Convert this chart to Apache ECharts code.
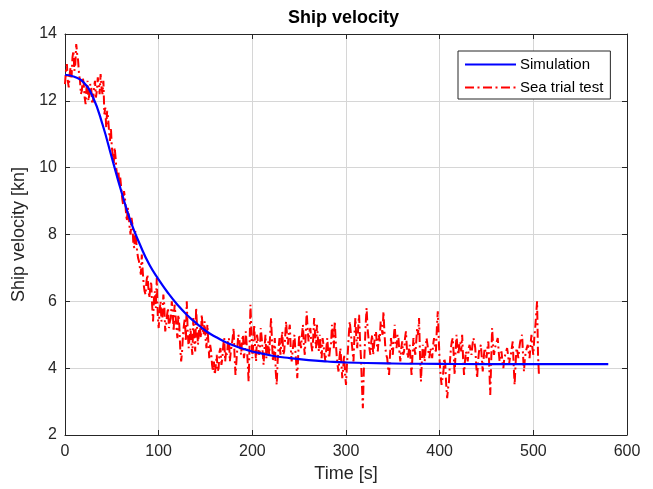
<!DOCTYPE html>
<html>
<head>
<meta charset="utf-8">
<title>Ship velocity</title>
<script src="https://cdn.jsdelivr.net/npm/echarts/dist/echarts.min.js"></script>
<style>
  html, body { margin: 0; padding: 0; background: #fff; }
  #chart { width: 653px; height: 489px; }
</style>
</head>
<body>
<div id="chart"></div>
<script>
// x / y axis ticks
var timeTicks = [0, 100, 200, 300, 400, 500, 600];
var velocityTicks = [2, 4, 6, 8, 10, 12, 14];

// simulation curve [s], [kn]
var simTime = [0, 10, 20, 30, 40, 50, 60, 70, 80, 90, 100, 110, 120, 130, 140, 150, 160, 170, 180, 190,
  200, 220, 240, 260, 280, 300, 350, 400, 450, 500, 580];
var simVelocity = [12.78, 12.72, 12.55, 12.1, 11.3, 10.3, 9.3, 8.4, 7.7, 7.1, 6.65, 6.25, 5.9, 5.6, 5.35, 5.12, 4.95, 4.8, 4.68, 4.58,
  4.5, 4.38, 4.3, 4.24, 4.2, 4.17, 4.14, 4.13, 4.12, 4.12, 4.12];

// sea trial record, samples at even seconds (0, 2, 4 ... 506)
var seaTrialEven = [
  12.5, 13.1, 12.4, 13.0, 13.3, 12.9, 13.7, 13.2, 12.6, 12.3,
  12.5, 11.9, 12.6, 12.2, 12.4, 12.0, 12.6, 12.3, 12.5, 12.8,
  12.2, 11.6, 11.2, 11.5, 10.8, 10.6, 10.1, 10.3, 9.7, 9.5,
  9.4, 8.9, 9.1, 8.4, 8.6, 8.0, 8.3, 7.6, 7.8, 7.3,
  7.0, 7.4, 6.5, 6.2, 6.8, 6.1, 6.6, 5.4, 6.3, 6.7,
  5.2, 6.0, 5.5, 5.9, 5.3, 5.8, 5.4, 6.0, 5.1, 5.6,
  4.9, 5.3, 4.2, 5.0, 5.5, 6.0, 4.6, 5.2, 4.4, 4.9,
  5.8, 4.7, 5.3, 5.6, 5.0, 4.9, 5.3, 4.3, 4.5, 3.9,
  3.8, 4.4, 4.0, 4.6, 4.3, 4.9, 4.5, 4.8, 4.2, 4.7,
  5.2, 3.8, 4.6, 4.9, 4.4, 5.0, 4.5, 4.7, 3.6, 5.9,
  4.3, 5.3, 4.2, 4.8, 4.5, 4.9, 4.1, 5.0, 4.6, 4.4,
  5.5, 4.2, 4.9, 3.5, 4.6, 4.4, 5.1, 4.5, 5.4, 4.7,
  5.3, 4.2, 4.8, 4.5, 3.7, 5.0, 4.6, 5.3, 4.4, 5.7,
  4.8, 5.2, 4.5, 5.5, 4.6, 4.9, 5.0, 4.3, 4.7, 4.2,
  4.9, 4.3, 4.7, 5.0, 5.4, 4.4, 3.9, 4.6, 3.7, 4.4,
  3.5, 4.5, 5.4, 4.8, 4.2, 5.5, 4.6, 5.6, 4.3, 2.8,
  4.6, 5.8, 4.9, 4.4, 5.0, 4.7, 5.1, 4.5, 4.8, 5.2,
  5.7, 4.6, 4.3, 3.8, 4.9, 4.4, 5.3, 4.6, 4.9, 4.2,
  4.8, 4.5, 5.1, 4.3, 4.7, 3.8, 4.9, 4.4, 5.2, 5.5,
  3.6, 4.7, 4.2, 4.9, 4.5, 4.6, 4.3, 4.9, 4.5, 5.7,
  4.2, 3.5, 3.9, 4.1, 3.1, 3.6, 4.6, 4.9, 3.8, 5.0,
  4.4, 4.8, 5.0, 3.8, 4.5, 4.2, 4.7, 4.4, 4.9, 4.6,
  3.7, 4.5, 4.7, 3.9, 4.6, 4.3, 4.8, 3.2, 5.2, 4.4,
  4.6, 4.9, 4.2, 4.5, 4.0, 4.3, 4.6, 4.1, 4.4, 4.8,
  3.5, 4.6, 4.3, 4.8, 5.0, 3.9, 4.5, 4.7, 4.3, 5.0,
  4.4, 5.2, 6.0, 3.8
];
// ... and at odd seconds (1, 3, 5 ... 505)
var seaTrialOdd = [
  12.9, 12.6, 12.8, 12.7, 13.5, 13.1, 13.4, 12.8, 12.2, 12.7,
  12.1, 12.4, 12.0, 12.5, 11.9, 12.4, 12.1, 12.7, 12.2, 12.4,
  12.6, 11.8, 11.7, 11.1, 11.2, 10.4, 10.6, 9.9, 9.9, 9.7,
  9.1, 9.3, 8.7, 8.8, 8.2, 8.5, 7.7, 8.1, 7.5, 7.2,
  6.8, 6.9, 6.3, 6.6, 6.4, 6.4, 5.9, 6.1, 5.8, 5.6,
  5.7, 5.4, 6.2, 5.1, 5.6, 5.2, 5.5, 5.7, 5.9, 5.2,
  5.6, 4.6, 4.5, 5.3, 4.8, 5.1, 4.9, 4.7, 5.5, 4.5,
  5.2, 5.1, 4.9, 5.2, 5.4, 4.6, 4.8, 4.7, 4.1, 4.2,
  4.1, 3.9, 4.5, 4.1, 4.7, 4.2, 4.4, 4.9, 4.5, 4.9,
  4.4, 4.2, 5.0, 4.6, 4.8, 4.3, 5.1, 4.2, 4.6, 5.1,
  4.7, 4.6, 5.0, 4.4, 5.2, 4.5, 4.6, 4.3, 4.8, 5.0,
  4.8, 4.5, 3.9, 4.2, 4.9, 4.8, 4.4, 4.9, 5.0, 5.1,
  4.6, 4.5, 5.0, 4.1, 4.4, 4.8, 5.0, 4.7, 5.0, 5.2,
  5.1, 4.7, 4.9, 5.0, 5.3, 4.5, 4.6, 4.9, 4.4, 4.6,
  4.5, 4.6, 5.3, 4.6, 4.8, 4.1, 4.3, 4.2, 4.0, 3.8,
  4.1, 5.0, 5.1, 4.5, 5.0, 4.9, 5.2, 4.8, 3.5, 3.9,
  5.3, 5.2, 4.6, 4.8, 4.4, 5.0, 4.7, 5.0, 5.4, 5.0,
  5.1, 4.4, 4.0, 4.4, 4.6, 4.9, 4.8, 5.0, 4.5, 4.6,
  4.4, 4.9, 4.6, 4.5, 4.2, 4.4, 4.6, 4.8, 5.0, 4.4,
  4.2, 4.5, 4.6, 4.7, 4.3, 4.5, 4.7, 4.6, 5.2, 4.9,
  3.8, 3.7, 4.3, 3.5, 3.4, 4.2, 4.8, 4.4, 4.5, 4.6,
  4.7, 4.5, 4.3, 4.2, 4.4, 4.6, 4.5, 4.7, 4.8, 4.1,
  4.2, 4.6, 4.3, 4.3, 4.5, 4.6, 4.0, 4.2, 4.7, 4.6,
  4.8, 4.5, 4.4, 4.2, 4.3, 4.5, 4.4, 4.3, 4.6, 4.1,
  4.1, 4.5, 4.6, 4.9, 4.4, 4.3, 4.6, 4.5, 4.7, 4.6,
  4.9, 5.6, 4.4
];

var font = 'Arial, "Liberation Sans", Helvetica, sans-serif';
var ink = '#262626';

var simData = [];
for (var i = 0; i < simTime.length; i++) {
  simData.push([simTime[i], simVelocity[i]]);
}
// put the even / odd samples back in time order
var seaData = [];
for (var j = 0; j < seaTrialEven.length; j++) {
  seaData.push([2 * j, seaTrialEven[j]]);
  if (j < seaTrialOdd.length) {
    seaData.push([2 * j + 1, seaTrialOdd[j]]);
  }
}

var tMin = timeTicks[0], tMax = timeTicks[timeTicks.length - 1];
var vMin = velocityTicks[0], vMax = velocityTicks[velocityTicks.length - 1];

// main axis with labels + a mirror axis for the box (ticks inside, like matlab)
function xAxis(pos, main) {
  return {
    type: 'value', position: pos, min: tMin, max: tMax, interval: 100,
    name: main ? 'Time [s]' : '', nameLocation: 'middle', nameGap: 30,
    nameTextStyle: { color: ink, fontSize: 18, fontFamily: font },
    axisLine: { show: true, onZero: false, lineStyle: { color: ink, width: 1 } },
    axisTick: { show: true, inside: true, length: 5, lineStyle: { color: ink } },
    axisLabel: { show: main, color: ink, fontSize: 16, fontFamily: font, margin: 9 },
    splitLine: { show: main, lineStyle: { color: '#d6d6d6', width: 1 } }
  };
}
function yAxis(pos, main) {
  return {
    type: 'value', position: pos, min: vMin, max: vMax, interval: 2,
    name: main ? 'Ship velocity [kn]' : '', nameLocation: 'middle', nameGap: 33,
    nameTextStyle: { color: ink, fontSize: 18, fontFamily: font },
    axisLine: { show: true, onZero: false, lineStyle: { color: ink, width: 1 } },
    axisTick: { show: true, inside: true, length: 5, lineStyle: { color: ink } },
    axisLabel: { show: main, color: ink, fontSize: 16, fontFamily: font, margin: 8 },
    splitLine: { show: main, lineStyle: { color: '#d6d6d6', width: 1 } }
  };
}

var chart = echarts.init(document.getElementById('chart'));
chart.setOption({
  animation: false,
  backgroundColor: '#fff',
  title: {
    text: 'Ship velocity',
    left: 288, top: 9, padding: 0,
    textStyle: { color: '#000', fontSize: 18, fontWeight: 'bold', fontFamily: font }
  },
  grid: { left: 65, right: 26, top: 34, bottom: 54 },
  legend: {
    data: ['Simulation', 'Sea trial test'],
    orient: 'vertical',
    left: 458, top: 51,
    padding: [6, 7, 4, 6],
    itemWidth: 51, itemHeight: 14, itemGap: 8,
    backgroundColor: '#fff',
    borderColor: ink, borderWidth: 1, borderRadius: 0,
    // hide the marker dot that line legends draw
    itemStyle: { opacity: 0 },
    textStyle: { color: '#000', fontSize: 15, fontFamily: font, padding: [0, 0, 0, -1] }
  },
  xAxis: [xAxis('bottom', true), xAxis('top', false)],
  yAxis: [yAxis('left', true), yAxis('right', false)],
  series: [
    {
      name: 'Sea trial test',
      type: 'line',
      data: seaData,
      symbol: 'none',
      lineStyle: { color: '#ff0000', width: 2, type: [9, 3.5, 2, 3.5] },
      itemStyle: { color: '#ff0000' }
    },
    {
      name: 'Simulation',
      type: 'line',
      data: simData,
      smooth: true,
      symbol: 'none',
      lineStyle: { color: '#0000ff', width: 2.2 },
      itemStyle: { color: '#0000ff' }
    }
  ]
});
</script>
</body>
</html>
